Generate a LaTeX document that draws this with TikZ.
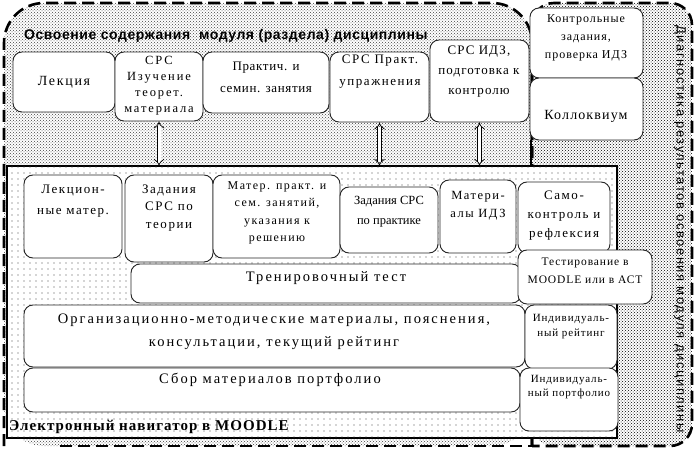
\documentclass[tikz,border=0pt]{standalone}
\usepackage{fontspec}
\setmainfont{Liberation Serif}
\newfontfamily\sansf[LetterSpace=4]{Liberation Sans}
\newfontfamily\sansv[LetterSpace=12]{Liberation Sans}
\newfontfamily\lsa[LetterSpace=5]{Liberation Serif}
\newfontfamily\lsb[LetterSpace=8]{Liberation Serif}
\newfontfamily\lsc[LetterSpace=12]{Liberation Serif}
\newfontfamily\lsd[LetterSpace=15]{Liberation Serif}
\newfontfamily\lse[LetterSpace=14]{Liberation Serif}
\newfontfamily\lsn[LetterSpace=7]{Liberation Serif}
\usetikzlibrary{patterns,patterns.meta,arrows.meta,calc}
\tikzdeclarepattern{
  name=sparsedots,
  type=uncolored,
  bottom left={(-1pt,-1pt)},
  top right={(6pt,6pt)},
  tile size={(6pt,6pt)},
  code={\fill (0pt,0pt) circle (0.55pt);}
}
\newcommand\bx[6]{%
  \node[bx,#6,minimum width={(#4)-(#2)},minimum height={(#5)-(#3)}] (#1) at ({((#2)+(#4))/2},{((#3)+(#5))/2}) {};}
\begin{document}
\begin{tikzpicture}[x=1pt,y=-1pt,
  bx/.style={draw=black!85,line width=0.9pt,fill=white,rounded corners=9pt,inner sep=0pt},
  tx/.style={align=center,inner sep=0pt},
  region/.style={draw=black,line width=2.6pt,dash pattern=on 12pt off 6pt,rounded corners=40pt},
  dblarrow/.style={double=white,double distance=3pt,line width=0.7pt,{Implies}-{Implies}}
]
\useasboundingbox (0,0) rectangle (696,449);
% regions
\path[fill=white] (4,3) rectangle (532,446);
\path[pattern=crosshatch dots,pattern color=black!75,rounded corners=40pt] (4,3) rectangle (532,446);
\path[fill=white,rounded corners=22pt] (532,3) rectangle (692,446);
\path[pattern=crosshatch dots,pattern color=black,rounded corners=22pt] (532,3) rectangle (692,446);
\draw[region] (4,446) -- (4,3) -- (532,3) -- (532,446);
\draw[region,rounded corners=22pt] (532,446) -- (532,3) -- (692,3) -- (692,446) -- (532,446);
\draw[region,rounded corners=0pt] (60,446) -- (532,446);
\node[font=\sansf\bfseries\fontsize{14}{16}\selectfont,anchor=west,inner sep=0pt] (title) at (24,36) {Освоение содержания \ модуля (раздела) дисциплины};
\node[font=\sansv\fontsize{13}{14}\selectfont,rotate=-90,inner sep=0pt] (diag) at (680,229) {Диагностика результатов освоения модуля дисциплины};
% navigator
\node[draw=black,line width=1.2pt,fill=white,minimum width=610,minimum height=271,inner sep=0pt] (nav) at (312,302) {};
\path[pattern=sparsedots,pattern color=black!70] (nav.north west) rectangle (nav.south east);
\draw[line width=1.2pt] (nav.north west) rectangle (nav.south east);
\node[font=\lsn\bfseries\fontsize{15}{17}\selectfont,anchor=west,inner sep=0pt] (navt) at (9,427) {Электронный навигатор в MOODLE};
% top row
\bx{a1}{13}{52}{115}{112}{}
\bx{a2}{115}{52}{203}{121}{}
\bx{a3}{203}{52}{329}{113}{}
\bx{a4}{330}{52}{429}{122}{}
\bx{a5}{430}{40}{529}{122}{}
\bx{k1}{530}{8}{643}{78}{}
\bx{k2}{530}{78}{643}{140}{}
\node[tx,font=\lsc\fontsize{14}{16}\selectfont] (a1t) at (64,82) {Лекция};
\node[tx,font=\lsd\fontsize{12.5}{16}\selectfont] (a2t) at (159,86) {СРС\\Изучение\\теорет.\\материала};
\node[tx,font=\lsa\fontsize{13}{22}\selectfont] (a3t) at (266,77) {Практич. и\\семин. занятия};
\node[tx,font=\lsc\fontsize{13}{22}\selectfont] (a4t) at (380,72) {СРС Практ.\\упражнения};
\node[tx,font=\lsb\fontsize{13}{20}\selectfont] (a5t) at (479,72) {СРС ИДЗ,\\подготовка к\\контролю};
\node[tx,font=\lsb\fontsize{12}{18}\selectfont] (k1t) at (586,38) {Контрольные\\задания,\\проверка ИДЗ};
\node[tx,font=\lsb\fontsize{14}{16}\selectfont] (k2t) at (586,116) {Коллоквиум};
% arrows
\draw[dblarrow] (a2.south) -- (a2.south |- nav.north);
\draw[dblarrow] (a4.south) -- (a4.south |- nav.north);
\draw[dblarrow] (a5.south) -- (a5.south |- nav.north);
\coordinate (kb) at ($(k2.south west)+(1.5,0)$);
\draw[line width=2.6pt] (kb) -- (kb |- nav.north);
% navigator boxes
\bx{b1}{24}{175}{122}{258}{}
\bx{b2}{125}{175}{213}{262}{}
\bx{b3}{213}{175}{340}{258}{}
\bx{b4}{340}{187}{438}{253}{}
\bx{b5}{440}{180}{516}{253}{}
\bx{b6}{518}{182}{610}{253}{}
\bx{c1}{131}{264}{521}{303}{}
\bx{c2}{518}{250}{652}{304}{}
\bx{d1}{24}{305}{525}{367}{}
\bx{d2}{525}{305}{617}{369}{}
\bx{e1}{24}{368}{520}{412}{}
\bx{e2}{520}{368}{618}{431}{}
\node[tx,font=\lsc\fontsize{13}{21}\selectfont] (b1t) at (73,201) {Лекцион-\\ные матер.};
\node[tx,font=\lsc\fontsize{13}{17.5}\selectfont] (b2t) at (169,208) {Задания\\СРС по\\теории};
\node[tx,font=\lsc\fontsize{12}{17.5}\selectfont] (b3t) at (277,213) {Матер. практ. и\\сем. занятий,\\указания к\\решению};
\node[tx,font=\fontsize{12.5}{20}\selectfont] (b4t) at (389,212) {Задания СРС\\по практике};
\node[tx,font=\lsc\fontsize{12.5}{18}\selectfont] (b5t) at (478,206) {Матери-\\алы ИДЗ};
\node[tx,font=\lsc\fontsize{13}{19}\selectfont] (b6t) at (564,216) {Само-\\контроль и\\рефлексия};
\node[tx,font=\lse\fontsize{14.5}{16}\selectfont] (c1t) at (326,278) {Тренировочный тест};
\node[tx,font=\lsb\fontsize{11.5}{18}\selectfont] (c2t) at (585,271) {Тестирование в\\MOODLE или в АСТ};
\node[tx,font=\lse\fontsize{14.5}{23}\selectfont] (d1t) at (274,332) {Организационно-методические материалы, пояснения,\\консультации, текущий рейтинг};
\node[tx,font=\lsb\fontsize{11}{15}\selectfont] (d2t) at (571,327) {Индивидуаль-\\ный рейтинг};
\node[tx,font=\lse\fontsize{14.5}{16}\selectfont] (e1t) at (270,380) {Сбор материалов портфолио};
\node[tx,font=\lsb\fontsize{11}{14}\selectfont] (e2t) at (569,387) {Индивидуаль-\\ный портфолио};
\end{tikzpicture}
\end{document}
